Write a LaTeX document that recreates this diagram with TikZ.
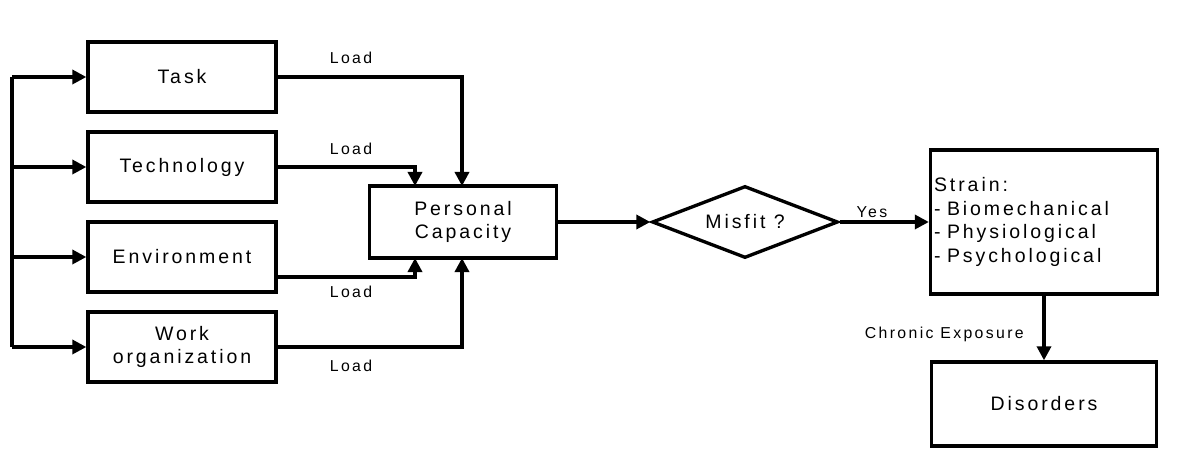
\documentclass[tikz,border=0pt]{standalone}
\usepackage{fontspec}
\setmainfont{Liberation Sans}[LetterSpace=15]
\usetikzlibrary{arrows.meta,shapes.geometric}

\begin{document}
\begin{tikzpicture}[x=0.02cm, y=-0.02cm,
        box/.style={draw, line width=1.9pt, minimum width=3.76cm, minimum height=1.4cm,
            align=center, font=\fontsize{11.1}{13.6}\selectfont},
        lbl/.style={font=\fontsize{9}{10}\selectfont},
        arr/.style={line width=1.9pt, -{Triangle[length=8pt, width=8pt]}}]
    \useasboundingbox (0,0) rectangle (1186,455);

    % factors
    \node[box] (task) at (182,77) {Task};
    \node[box] (tech) at (182,167) {Technology};
    \node[box] (env) at (182,257) {Environment};
    \node[box] (work) at (182,347) {Work\\organization};

    \node[box, minimum width=3.74cm, minimum height=1.44cm] (cap) at (463,222) {Personal\\Capacity};
    \node[diamond, draw, line width=1.9pt, inner sep=0pt, aspect=2.6,
        minimum width=3.72cm, minimum height=1.44cm,
        font=\fontsize{11.1}{13.6}\selectfont] (misfit) at (745,222) {Misfit ?};
    \node[box, minimum width=4.5cm, minimum height=2.88cm, align=left,
        text width=4.4cm, inner xsep=2pt] (strain) at (1044,222)
        {Strain:\\- Biomechanical\\- Physiological\\- Psychological};
    \node[box, minimum width=4.5cm, minimum height=1.68cm] (dis) at (1044,404) {Disorders};

    \coordinate (split) at (12,77);

    % inputs
    \draw[line width=1.9pt] (split) -- (12,347);
    \draw[arr] (split) -- (task.west);
    \draw[arr] (12,167) -- (tech.west);
    \draw[arr] (12,257) -- (env.west);
    \draw[arr] (12,347) -- (work.west);

    % loads
    \draw[arr] (task.east) -| (462,186);
    \draw[arr] (tech.east) -| (415,186);
    \draw[arr] (env.east |- 0,277) -| (415,258);
    \draw[arr] (work.east) -| (462,258);
    \node[lbl] (l1) at (351,58) {Load};
    \node[lbl] (l2) at (351,149) {Load};
    \node[lbl] (l3) at (351,292) {Load};
    \node[lbl] (l4) at (351,366) {Load};

    \draw[arr] (cap.east) -- (misfit.west);
    \draw[arr] (misfit.east) -- (strain.west);
    \node[lbl] (yes) at (872,212) {Yes};
    \draw[arr] (strain.south) -- (dis.north);
    \node[lbl, anchor=east] (chron) at (1030,334) {Chronic Exposure};
\end{tikzpicture}
\end{document}
